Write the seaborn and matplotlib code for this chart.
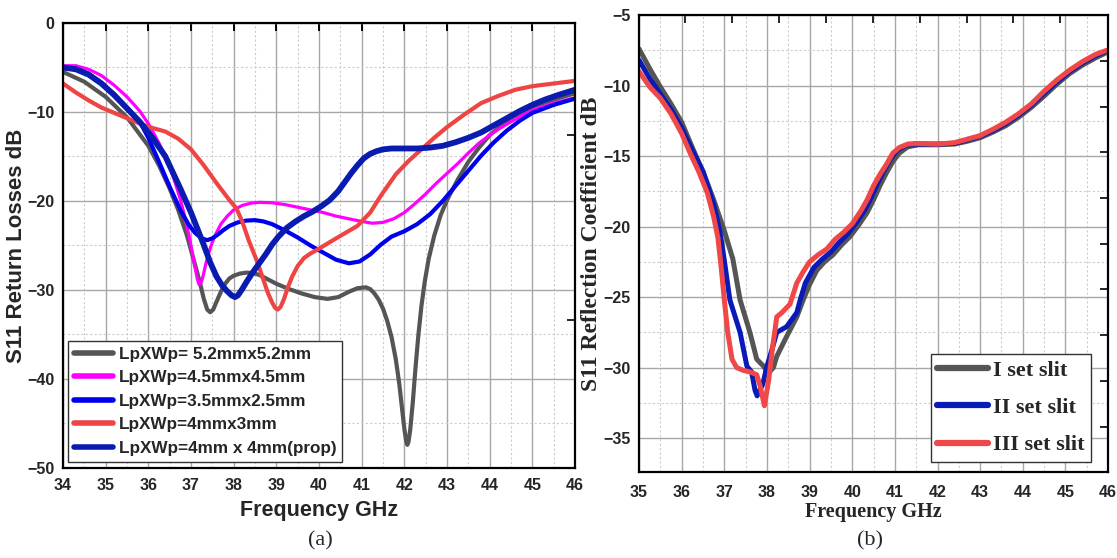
import numpy as np
import pandas as pd
import matplotlib
matplotlib.use("Agg")
import matplotlib.pyplot as plt
from matplotlib.ticker import MultipleLocator
import seaborn as sns

# ---------------- (a) patch-size study ----------------
labels_a = ["LpXWp= 5.2mmx5.2mm", "LpXWp=4.5mmx4.5mm", "LpXWp=3.5mmx2.5mm",
            "LpXWp=4mmx3mm", "LpXWp=4mm x 4mm(prop)"]

f_52 = [34.0, 34.5, 35.0, 35.5, 36.0, 36.25, 36.5, 36.7, 36.9, 37.05, 37.2, 37.3,
        37.38, 37.45, 37.52, 37.6, 37.7, 37.8, 37.9, 38.0, 38.15, 38.3, 38.45, 38.6,
        38.8, 39.0, 39.3, 39.6, 39.9, 40.2, 40.45, 40.7, 40.9, 41.1, 41.2, 41.3,
        41.4, 41.5, 41.6, 41.7, 41.8, 41.88, 41.95, 42.0, 42.04, 42.07, 42.1, 42.14,
        42.2, 42.26, 42.33, 42.4, 42.48, 42.57, 42.7, 42.85, 43.0, 43.25, 43.5, 43.75,
        44.0, 44.3, 44.6, 45.0, 45.5, 46.0]
s_52 = [-5.5, -6.6, -8.3, -10.6, -13.8, -16.0, -18.6, -21.0, -23.8, -26.4, -29.0, -31.0,
        -32.2, -32.5, -32.2, -31.3, -30.2, -29.3, -28.7, -28.4, -28.15, -28.05, -28.1, -28.3,
        -28.8, -29.3, -29.9, -30.4, -30.8, -31.0, -30.8, -30.2, -29.8, -29.7, -29.9, -30.4,
        -31.1, -32.1, -33.5, -35.3, -37.8, -40.5, -43.5, -45.6, -46.9, -47.4, -47.0, -45.6,
        -42.5, -38.8, -35.0, -31.8, -29.0, -26.5, -23.9, -21.6, -19.9, -17.6, -15.6, -14.0,
        -12.6, -11.4, -10.4, -9.4, -8.6, -7.9]

f_45 = [34.0, 34.3, 34.6, 34.9, 35.2, 35.5, 35.8, 36.0, 36.25, 36.5, 36.75, 36.85,
        36.95, 37.03, 37.1, 37.15, 37.19, 37.23, 37.28, 37.35, 37.45, 37.55, 37.7, 37.85,
        38.0, 38.2, 38.4, 38.6, 38.9, 39.2, 39.5, 39.8, 40.1, 40.4, 40.7, 41.0,
        41.25, 41.5, 41.75, 42.0, 42.25, 42.5, 42.75, 43.0, 43.25, 43.5, 43.75, 44.0,
        44.25, 44.5, 44.75, 45.0, 45.5, 46.0]
s_45 = [-4.8, -4.8, -5.2, -5.9, -7.0, -8.3, -9.9, -11.3, -13.5, -16.0, -19.8, -21.7,
        -23.8, -25.8, -27.6, -28.8, -29.4, -29.3, -28.5, -27.0, -25.3, -24.0, -22.6, -21.7,
        -21.0, -20.5, -20.25, -20.15, -20.2, -20.4, -20.7, -21.0, -21.3, -21.7, -22.0, -22.3,
        -22.5, -22.4, -22.0, -21.3, -20.3, -19.2, -18.0, -16.9, -15.8, -14.6, -13.5, -12.6,
        -11.8, -11.1, -10.4, -9.8, -9.0, -8.4]

f_35 = [34.0, 34.3, 34.6, 34.9, 35.2, 35.5, 35.8, 36.0, 36.25, 36.5, 36.75, 36.95,
        37.1, 37.25, 37.38, 37.5, 37.62, 37.75, 37.9, 38.1, 38.3, 38.5, 38.7, 38.9,
        39.2, 39.5, 39.8, 40.1, 40.4, 40.7, 40.95, 41.2, 41.45, 41.7, 42.0, 42.3,
        42.6, 42.9, 43.2, 43.5, 43.8, 44.1, 44.4, 44.7, 45.0, 45.5, 46.0]
s_35 = [-5.0, -5.1, -5.7, -6.7, -8.0, -9.5, -11.1, -12.9, -15.6, -18.4, -21.0, -22.7,
        -23.6, -24.2, -24.4, -24.2, -23.8, -23.3, -22.8, -22.4, -22.2, -22.15, -22.3, -22.6,
        -23.3, -24.1, -25.0, -25.8, -26.6, -27.0, -26.8, -26.0, -24.9, -24.0, -23.4, -22.6,
        -21.5, -20.0, -18.3, -16.6, -14.9, -13.4, -12.1, -11.0, -10.1, -9.2, -8.5]

f_43 = [34.0, 34.3, 34.6, 34.9, 35.2, 35.5, 35.8, 36.1, 36.4, 36.7, 37.0, 37.3,
        37.6, 37.9, 38.06, 38.2, 38.35, 38.55, 38.7, 38.8, 38.9, 38.97, 39.03, 39.1,
        39.18, 39.27, 39.37, 39.5, 39.65, 39.8, 39.95, 40.4, 40.9, 41.2, 41.45, 41.8,
        42.1, 42.4, 42.7, 43.0, 43.4, 43.8, 44.2, 44.6, 45.0, 45.5, 46.0]
s_43 = [-6.8, -7.8, -8.7, -9.5, -10.1, -10.7, -11.3, -11.8, -12.2, -13.0, -14.2, -16.0,
        -18.0, -19.9, -20.8, -22.3, -24.4, -26.8, -28.9, -30.3, -31.4, -32.0, -32.2, -31.9,
        -31.0, -29.7, -28.5, -27.3, -26.4, -25.9, -25.5, -24.2, -22.8, -21.3, -19.4, -17.0,
        -15.5, -14.2, -12.9, -11.7, -10.3, -9.0, -8.2, -7.5, -7.1, -6.8, -6.5]

f_44 = [34.0, 34.3, 34.6, 34.9, 35.2, 35.5, 35.8, 36.1, 36.4, 36.75, 37.0, 37.28,
        37.45, 37.6, 37.73, 37.84, 37.95, 38.03, 38.1, 38.2, 38.3, 38.45, 38.6, 38.75,
        38.9, 39.05, 39.25, 39.45, 39.65, 39.85, 40.05, 40.25, 40.45, 40.6, 40.75, 40.9,
        41.05, 41.2, 41.35, 41.5, 41.7, 42.0, 42.3, 42.6, 42.9, 43.2, 43.5, 43.8,
        44.1, 44.4, 44.7, 45.0, 45.3, 45.6, 46.0]
s_44 = [-5.0, -5.2, -5.8, -6.8, -8.1, -9.6, -11.1, -12.9, -15.0, -18.6, -21.3, -24.7,
        -26.9, -28.5, -29.5, -30.1, -30.6, -30.8, -30.6, -29.9, -29.1, -28.0, -27.0, -26.0,
        -24.9, -24.0, -23.0, -22.3, -21.7, -21.2, -20.6, -19.9, -18.9, -17.9, -16.9, -16.0,
        -15.2, -14.7, -14.4, -14.2, -14.1, -14.1, -14.1, -14.0, -13.8, -13.4, -12.9, -12.3,
        -11.5, -10.7, -9.9, -9.2, -8.6, -8.1, -7.5]

# ---------------- (b) slit study ----------------
labels_b = ["I set slit", "II set slit", "III set slit"]

f_I = [35.0, 35.25, 35.5, 35.75, 36.0, 36.25, 36.5, 36.75, 37.0, 37.2, 37.37, 37.6,
       37.76, 37.92, 38.03, 38.15, 38.23, 38.46, 38.7, 38.85, 39.0, 39.17, 39.35, 39.55,
       39.75, 39.95, 40.15, 40.35, 40.5, 40.65, 40.8, 40.95, 41.1, 41.3, 41.55, 42.0,
       42.4, 42.7, 43.0, 43.3, 43.6, 43.9, 44.2, 44.5, 44.8, 45.1, 45.4, 45.7, 45.97]
s_I = [-7.4, -8.8, -10.1, -11.3, -12.6, -14.4, -16.1, -18.1, -20.3, -22.3, -25.2, -27.5,
       -29.4, -29.9, -30.4, -30.0, -29.2, -27.8, -26.4, -25.2, -24.1, -23.1, -22.5, -22.0,
       -21.3, -20.7, -19.9, -19.0, -18.1, -17.1, -16.2, -15.4, -14.8, -14.35, -14.2, -14.2,
       -14.15, -13.95, -13.7, -13.3, -12.85, -12.25, -11.55, -10.75, -9.9, -9.15, -8.55, -8.05, -7.65]

f_II = [35.0, 35.25, 35.5, 35.75, 36.0, 36.25, 36.5, 36.75, 36.9, 37.0, 37.13, 37.37,
        37.53, 37.64, 37.72, 37.77, 37.83, 37.9, 38.0, 38.12, 38.23, 38.46, 38.7, 38.78,
        38.9, 39.1, 39.3, 39.5, 39.7, 39.9, 40.1, 40.3, 40.45, 40.6, 40.75, 40.9,
        41.05, 41.25, 41.5, 42.0, 42.4, 42.7, 43.0, 43.3, 43.6, 43.9, 44.2, 44.5,
        44.8, 45.1, 45.4, 45.7, 45.97]
s_II = [-8.2, -9.5, -10.6, -11.7, -13.0, -14.6, -16.1, -18.4, -20.4, -22.4, -25.2, -27.5,
        -29.9, -30.3, -31.6, -32.0, -31.6, -31.2, -29.9, -28.7, -27.5, -27.1, -26.1, -25.2,
        -24.0, -22.9, -22.3, -21.8, -21.1, -20.5, -19.7, -18.8, -17.9, -16.9, -16.0, -15.2,
        -14.6, -14.25, -14.15, -14.15, -14.1, -13.85, -13.6, -13.2, -12.7, -12.1, -11.4, -10.55,
        -9.75, -9.0, -8.4, -7.9, -7.55]

f_III = [35.0, 35.25, 35.5, 35.75, 36.0, 36.2, 36.4, 36.6, 36.75, 36.85, 36.93, 37.0,
         37.08, 37.18, 37.29, 37.45, 37.6, 37.76, 37.84, 37.94, 38.04, 38.13, 38.23, 38.35,
         38.54, 38.7, 38.85, 39.0, 39.2, 39.4, 39.6, 39.8, 40.0, 40.2, 40.35, 40.5,
         40.65, 40.8, 40.95, 41.1, 41.3, 41.5, 42.0, 42.4, 42.7, 43.0, 43.3, 43.6,
         43.9, 44.2, 44.5, 44.8, 45.1, 45.4, 45.7, 45.97]
s_III = [-9.0, -10.1, -10.9, -12.0, -13.4, -14.8, -16.1, -17.6, -19.3, -20.8, -23.0, -25.2,
         -27.5, -29.4, -30.0, -30.2, -30.3, -30.5, -31.3, -32.7, -30.9, -28.6, -26.4, -26.1,
         -25.5, -24.0, -23.2, -22.5, -22.0, -21.6, -20.9, -20.4, -19.8, -18.9, -18.1, -17.1,
         -16.3, -15.6, -14.8, -14.4, -14.15, -14.1, -14.15, -14.05, -13.8, -13.55, -13.1, -12.6,
         -12.0, -11.3, -10.4, -9.6, -8.9, -8.3, -7.8, -7.5]

SANS = "Liberation Sans"
SERIF = "Liberation Serif"

sns.set_theme(style="white")
plt.rcParams["font.family"] = [SANS, "DejaVu Sans"]
plt.rcParams["axes.unicode_minus"] = True
plt.rcParams["lines.solid_joinstyle"] = "round"
plt.rcParams["lines.solid_capstyle"] = "round"

fig = plt.figure(figsize=(11.17, 5.58), dpi=100)
ax1 = fig.add_axes([0.0564, 0.1613, 0.4584, 0.7975])
ax2 = fig.add_axes([0.5721, 0.1541, 0.4199, 0.8190])


def frame(pairs, names):
    rows = [pd.DataFrame({"Frequency": f, "S11": s, "series": n})
            for (f, s), n in zip(pairs, names)]
    return pd.concat(rows, ignore_index=True)


df_a = frame([(f_52, s_52), (f_45, s_45), (f_35, s_35), (f_43, s_43), (f_44, s_44)], labels_a)
df_b = frame([(f_I, s_I), (f_II, s_II), (f_III, s_III)], labels_b)

colors_a = ["#555555", "#ff00ff", "#0000ee", "#ee4444", "#0a1cb0"]
widths_a = [3.0, 2.3, 3.0, 3.0, 4.2]
for name, c, w in zip(labels_a, colors_a, widths_a):
    sns.lineplot(data=df_a[df_a.series == name], x="Frequency", y="S11", ax=ax1,
                 color=c, linewidth=w, label=name, sort=False, estimator=None)

colors_b = ["#555555", "#0a1ab8", "#f04848"]
for name, c in zip(labels_b, colors_b):
    sns.lineplot(data=df_b[df_b.series == name], x="Frequency", y="S11", ax=ax2,
                 color=c, linewidth=3.6, label=name, sort=False, estimator=None)


def style_axes(ax, xlim, ylim, ymaj, ymin):
    ax.set_xlim(*xlim)
    ax.set_ylim(*ylim)
    ax.xaxis.set_major_locator(MultipleLocator(1))
    ax.xaxis.set_minor_locator(MultipleLocator(0.5))
    ax.yaxis.set_major_locator(MultipleLocator(ymaj))
    ax.yaxis.set_minor_locator(MultipleLocator(ymin))
    ax.set_axisbelow(True)
    ax.grid(which="major", color="#a8a8a8", lw=1.0, ls="-")
    ax.grid(which="minor", color="#cccccc", lw=0.8, ls=(0, (2, 2)))
    for sp in ax.spines.values():
        sp.set_visible(True)
        sp.set_color("black")
        sp.set_linewidth(1.6)
    ax.tick_params(which="major", direction="in", length=6, width=1.4, color="black")
    ax.tick_params(which="minor", direction="in", length=3.5, width=1.2, color="black")
    for lab in ax.get_xticklabels() + ax.get_yticklabels():
        lab.set_fontweight("bold")
        lab.set_fontsize(11.5)
        lab.set_family(SANS)


style_axes(ax1, (34, 46), (-50, 0), 10, 5)
style_axes(ax2, (35, 46), (-37.4, -5), 5, 2.5)
ax1.tick_params(axis="x", which="major", top=True, pad=7)
ax1.tick_params(axis="y", pad=6)
ax2.tick_params(axis="x", pad=9)
ax2.tick_params(axis="y", pad=6)

sec = ax1.secondary_yaxis("right")
sec.set_yticks([-12.6, -33.4])
sec.tick_params(direction="in", length=6, width=1.4, labelright=False)
sec.spines["right"].set_visible(False)

sx = ax2.secondary_xaxis("top")
sx.set_xticks([36.08 + 1.1 * k for k in range(9)])
sx.tick_params(direction="in", length=6, width=1.4, labeltop=False)
sx.spines["top"].set_visible(False)
sy = ax2.secondary_yaxis("right")
sy.set_yticks([-8.26 - 3.24 * k for k in range(9)])
sy.tick_params(direction="in", length=6, width=1.4, labelright=False)
sy.spines["right"].set_visible(False)

ax1.set_xlabel("Frequency GHz", fontsize=15.5, fontweight="bold", family=SANS, labelpad=5)
ax1.set_ylabel("S11 Return Losses dB", fontsize=16, fontweight="bold", family=SANS, labelpad=0)
ax2.set_xlabel("Frequency GHz", fontsize=14.5, fontweight="bold", family=SERIF, labelpad=2)
ax2.set_ylabel("S11 Reflection Coefficient dB", fontsize=17, fontweight="bold", family=SERIF, labelpad=1)

leg1 = ax1.legend(loc="lower left", bbox_to_anchor=(0.01, 0.0135), borderaxespad=0,
                  frameon=True, fancybox=False, edgecolor="#333333", framealpha=1,
                  prop={"family": SANS, "weight": "bold", "size": 12.3},
                  handlelength=2.3, handletextpad=0.3, labelspacing=0.5, borderpad=0.35)
leg1.get_frame().set_linewidth(1.0)
for h in leg1.get_lines():
    h.set_linewidth(4.0)

leg2 = ax2.legend(loc="lower right", bbox_to_anchor=(0.964, 0.022), borderaxespad=0,
                  frameon=True, fancybox=False, edgecolor="#333333", framealpha=1,
                  prop={"family": SERIF, "weight": "bold", "size": 16},
                  handlelength=2.3, handletextpad=0.2, labelspacing=0.75, borderpad=0.3)
leg2.get_frame().set_linewidth(1.0)
for h in leg2.get_lines():
    h.set_linewidth(4.5)

fig.text(320 / 1117, 1 - 541 / 558, "(a)", ha="center", va="center", fontsize=16, family=SERIF)
fig.text(870 / 1117, 1 - 541 / 558, "(b)", ha="center", va="center", fontsize=16, family=SERIF)

fig.savefig("out.png", dpi=100, facecolor="white")
